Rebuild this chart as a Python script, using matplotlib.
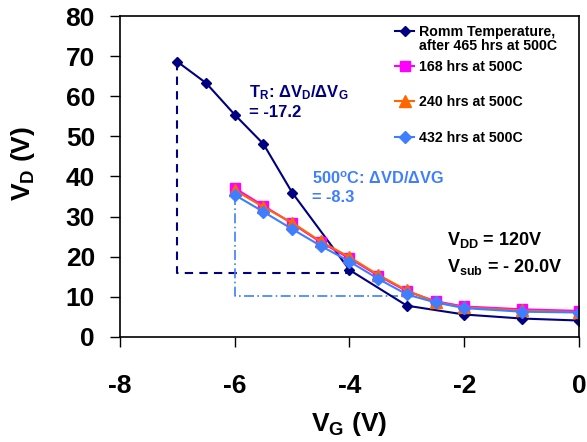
import matplotlib.pyplot as plt

plt.rcParams['font.family'] = ['Liberation Sans', 'DejaVu Sans']
plt.rcParams['font.weight'] = 'bold'
plt.rcParams['axes.unicode_minus'] = False
# bold subscripts
plt.rcParams['mathtext.fontset'] = 'custom'
plt.rcParams['mathtext.rm'] = 'Liberation Sans:bold'
plt.rcParams['mathtext.it'] = 'Liberation Sans:bold'
plt.rcParams['mathtext.bf'] = 'Liberation Sans:bold'

# Room temperature curve (after 465 hrs at 500C)
vg_room = [-7, -6.5, -6, -5.5, -5, -4, -3, -2, -1, 0]
vd_room = [68.6, 63.3, 55.4, 48.1, 36.0, 16.7, 7.8, 5.6, 4.6, 4.1]

# curves measured at 500C
vg_hot = [-6, -5.5, -5, -4.5, -4, -3.5, -3, -2.5, -2, -1, 0]
vd_168 = [37.1, 32.7, 28.3, 23.6, 19.6, 15.3, 11.4, 8.9, 7.6, 6.9, 6.5]
vd_240 = [36.6, 32.4, 28.5, 23.8, 19.9, 15.5, 11.6, 8.7, 7.4, 6.6, 6.2]
vd_432 = [35.4, 31.2, 26.9, 22.7, 18.8, 14.5, 10.6, 8.6, 7.2, 6.3, 6.1]

# first legend entry wraps onto a second line (handle sits on the first line)
labels = ['Romm Temperature,', '168 hrs at 500C', '240 hrs at 500C', '432 hrs at 500C']
label_wrap = 'after 465 hrs at 500C'

# slope guide lines
guide_room_x = [-7, -7, -4.05]
guide_room_y = [68.6, 15.9, 15.9]
guide_hot_x = [-6, -6, -3.15]
guide_hot_y = [35.4, 10.3, 10.3]

navy = '#000080'
magenta = '#FF00FF'
orange = '#FF6600'
blue = '#3F7FFF'

fig = plt.figure(figsize=(5.87, 4.42), dpi=100)
ax = fig.add_axes([0.2044, 0.2376, 0.782, 0.7262])

ax.plot(guide_room_x, guide_room_y, color=navy, lw=1.5, ls=(0, (4, 3)))
ax.plot(guide_hot_x, guide_hot_y, color=blue, lw=1.2, ls=(0, (6, 2, 1, 2)))

ax.plot(vg_room, vd_room, color=navy, lw=1.5, marker='D', ms=5, label=labels[0])
ax.plot(vg_hot, vd_168, color=magenta, lw=1.5, marker='s', ms=7, label=labels[1])
ax.plot(vg_hot, vd_240, color=orange, lw=1.5, marker='^', ms=8, label=labels[2])
ax.plot(vg_hot, vd_432, color=blue, lw=1.5, marker='D', ms=6, label=labels[3])

ax.set_xlim(-8, 0)
ax.set_ylim(0, 80)
ax.set_xticks([-8, -6, -4, -2, 0])
ax.set_yticks(range(0, 81, 10))
ax.tick_params(axis='both', labelsize=19, direction='out', length=7, width=1)
ax.tick_params(axis='x', pad=20)
ax.tick_params(axis='y', pad=11)
for lbl in ax.get_xticklabels() + ax.get_yticklabels():
    lbl.set_fontweight('bold')
for s in ax.spines.values():
    s.set_linewidth(1.2)

ax.set_xlabel(r'V$_\mathregular{G}$ (V)', fontsize=19, fontweight='bold', labelpad=8)
ax.set_ylabel(r'V$_\mathregular{D}$ (V)', fontsize=19, fontweight='bold')
ax.yaxis.set_label_coords(-0.181, 0.54)

ax.text(-5.75, 63.3, r'T$_\mathregular{R}$: ΔV$_\mathregular{D}$/ΔV$_\mathregular{G}$' + '\n= -17.2',
        color=navy, fontsize=12, fontweight='bold', va='top', linespacing=1.25)
ax.text(-4.66, 41.6, r'500$^\mathregular{o}$C: ΔVD/ΔVG' + '\n= -8.3',
        color=blue, fontsize=11.8, fontweight='bold', va='top', linespacing=1.25)
ax.text(-2.3, 24.1, r'V$_\mathregular{DD}$ = 120V', fontsize=13, fontweight='bold', va='center')
ax.text(-2.3, 17.5, r'V$_\mathregular{sub}$ = - 20.0V', fontsize=13, fontweight='bold', va='center')

leg = ax.legend(loc='upper left', frameon=False, fontsize=10.2, handlelength=1.4,
                handletextpad=0.3, labelspacing=1.5, borderaxespad=0.0,
                bbox_to_anchor=(0.586, 0.99))
for t in leg.get_texts():
    t.set_fontweight('bold')

# second line of the first legend label, placed right under it
fig.canvas.draw()
bb = leg.get_texts()[0].get_window_extent()
x_wrap, y_wrap = fig.transFigure.inverted().transform((bb.x0, bb.y0 - 14))
fig.text(x_wrap, y_wrap, label_wrap, fontsize=10.2, fontweight='bold', ha='left', va='bottom')

fig.savefig('out.png', dpi=100)
